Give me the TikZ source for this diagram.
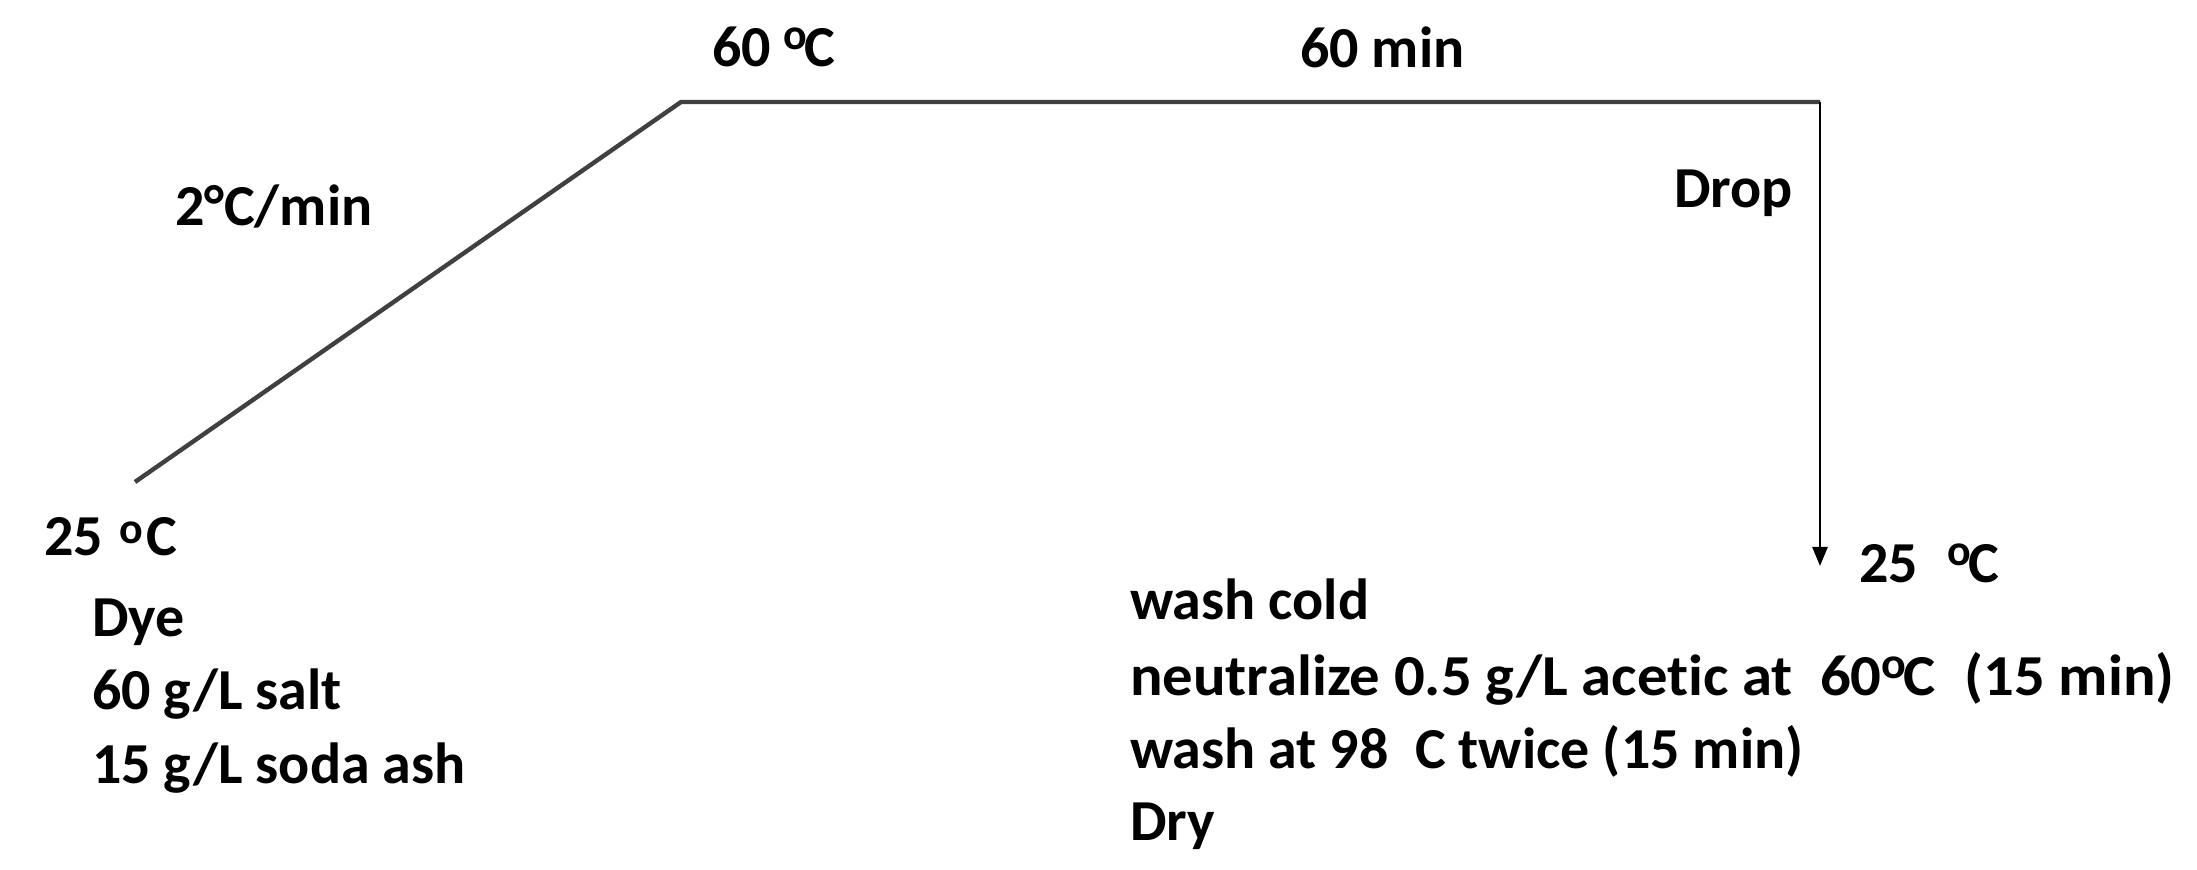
\documentclass[tikz,border=0pt]{standalone}
\usepackage{fontspec}
\setmainfont{Carlito}[Ligatures=NoCommon]
\usetikzlibrary{arrows.meta}
\newcommand{\degC}{\raisebox{8.5pt}{\fontsize{22}{22}\selectfont o}\kern-1.5pt C}
\newcommand{\ringC}{\hspace{2pt}\raisebox{6pt}{\fontsize{22}{22}\selectfont o}\hspace{1.5pt}C}
\begin{document}
\begin{tikzpicture}[x=0.5pt,y=-0.5pt,
  lbl/.style={anchor=base west,inner sep=0pt,outer sep=0pt,font=\fontsize{29}{37}\selectfont\bfseries},
  curve/.style={draw=black!75,line width=2.2pt,line join=miter},
  droparrow/.style={draw=black,line width=1.3pt,-{Triangle[length=9.5pt,width=7.5pt]}}]
\useasboundingbox[fill=white] (0,0) rectangle (2197,870);
% profile
\coordinate (p0) at (135,482);
\coordinate (p1) at (681,102);
\coordinate (p2) at (1820,102);
\coordinate (p3) at (1820,566);
\draw[curve] (p0) -- (p1) -- (p2);
\draw[droparrow] (p2) -- (p3);
% labels
\node[lbl] (t60C) at (712,67) {60 \degC};
\node[lbl] (t60min) at (1300,68) {60 min};
\node[lbl] (trate) at (175,226) {2°C/min};
\node[lbl] (tdrop) at (1674,208) {Drop};
\node[lbl] (t25L) at (44,556) {25 \ringC};
\node[lbl] (tdye) at (92,637) {Dye};
\node[lbl] (tsalt) at (92,710) {60 g/L salt};
\node[lbl] (tsoda) at (92,784) {15 g/L soda ash};
\node[lbl] (t25R) at (1859,583) {25\hspace{15pt}\degC};
\node[lbl] (twc) at (1130,620) {wash cold};
\node[lbl] (tneu) at (1130,696) {\scalebox{1.047}[1]{neutralize 0.5 g/L acetic at\hspace{13pt}60\degC\hspace{14pt}(15 min)}};
\node[lbl] (tw98) at (1130,769) {wash at 98\ \ C twice (15 min)};
\node[lbl] (tdry) at (1130,841) {Dry};
\end{tikzpicture}
\end{document}
